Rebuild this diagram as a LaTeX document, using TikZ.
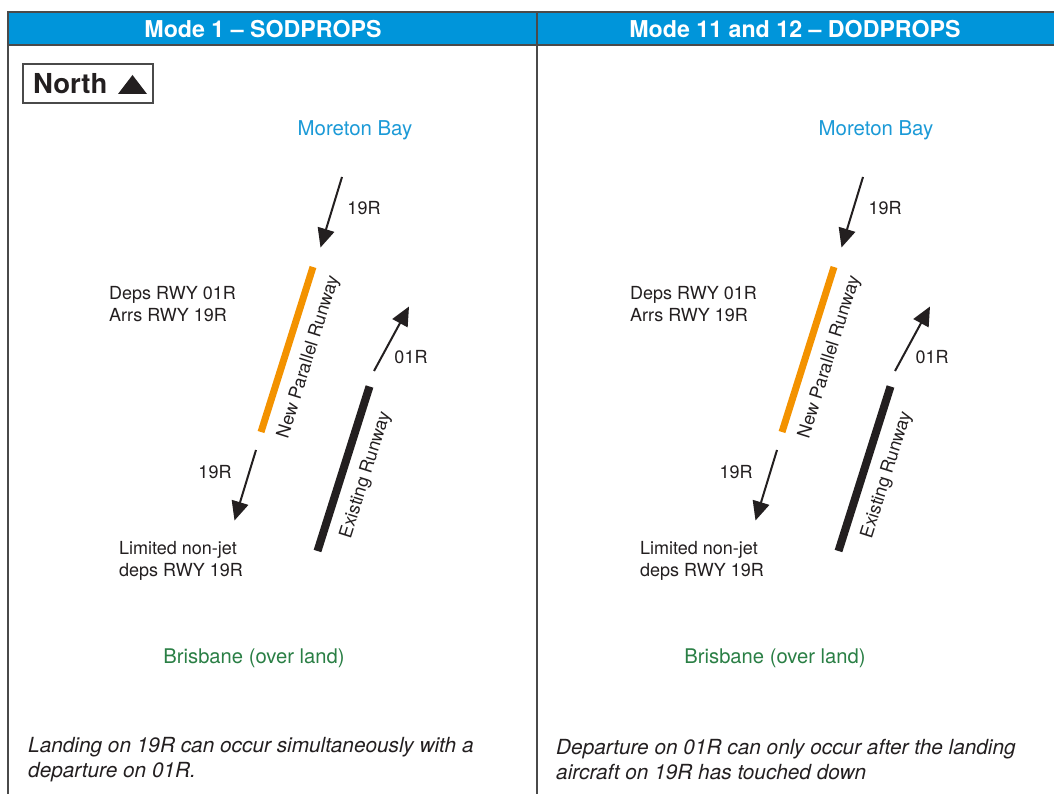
\documentclass[tikz,border=0pt]{standalone}
\usepackage{fontspec}
\setmainfont{TeX Gyre Heros}
\usetikzlibrary{arrows.meta}
\definecolor{hdrblue}{HTML}{0095DA}
\definecolor{baytxt}{HTML}{1B9AD7}
\definecolor{landtxt}{HTML}{2A7F45}
\definecolor{rwyorange}{HTML}{F39200}
\definecolor{ink}{HTML}{231F20}
\definecolor{framecol}{HTML}{4A4A4A}
\begin{document}
\begin{tikzpicture}[x=1pt,y=-1pt,
  frame/.style={draw=framecol,line width=1.4pt},
  hdr/.style={text=white,font=\fontsize{23.2}{27}\selectfont\bfseries,inner sep=0pt},
  body/.style={text=ink,font=\fontsize{18}{22}\selectfont,inner sep=0pt},
  baylbl/.style={text=baytxt,font=\fontsize{20.4}{24}\selectfont,inner sep=0pt},
  landlbl/.style={text=landtxt,font=\fontsize{20.2}{24}\selectfont,inner sep=0pt},
  note/.style={text=ink,font=\fontsize{20.8}{25}\selectfont\itshape,inner sep=0pt,align=left,anchor=west},
  arr/.style={draw=ink,line width=2pt,-{Triangle[length=19pt,width=17pt]}},
  newrwy/.style={draw=rwyorange,line width=7pt},
  oldrwy/.style={draw=ink,line width=8pt},
  rwylbl/.style={text=ink,font=\fontsize{18}{22}\selectfont,inner sep=0pt,rotate=72.5}
]
\useasboundingbox (0,0) rectangle (1054,794);
\fill[white] (0,0) rectangle (1054,794);
% header
\fill[hdrblue] (8,12) rectangle (1054,45);
\draw[frame] (8,794) -- (8,12) -- (1054,12);
\draw[frame] (8,45) -- (1054,45);
\draw[frame] (537,12) -- (537,794);
\node[hdr] (h1) at (263,29.5) {Mode 1 – SODPROPS};
\node[hdr] (h2) at (795,29.5) {Mode 11 and 12 – DODPROPS};
% north box
\node[draw=framecol,line width=1.3pt,minimum width=130pt,minimum height=39pt,inner sep=0pt] (northbox) at (88,83.5) {};
\node[text=ink,font=\fontsize{27.5}{30}\selectfont\bfseries,inner sep=0pt,anchor=base west] (northtxt) at (33,94) {North};
\fill[ink] (118,94) -- (147,94) -- (132.5,75) -- cycle;

\foreach \dx/\pre in {0/L, 521/R}{
\begin{scope}[xshift=\dx pt]
  \node[baylbl] (\pre-bay) at (355,130) {Moreton Bay};
  \coordinate (\pre-a1s) at (342,177);
  \coordinate (\pre-a1e) at (320.5,247.5);
  \draw[arr] (\pre-a1s) -- (\pre-a1e);
  \node[body] (\pre-l1) at (364,208) {19R};
  \coordinate (\pre-nt) at (313,267);
  \coordinate (\pre-nb) at (261,432);
  \draw[newrwy] (\pre-nb) -- (\pre-nt);
  \node[rwylbl] (\pre-nlbl) at (309,357) {New Parallel Runway};
  \coordinate (\pre-a2s) at (374,371);
  \coordinate (\pre-a2e) at (409,306.5);
  \draw[arr] (\pre-a2s) -- (\pre-a2e);
  \node[body] (\pre-l2) at (411,357) {01R};
  \coordinate (\pre-et) at (369.5,386.5);
  \coordinate (\pre-eb) at (317.5,551);
  \draw[oldrwy] (\pre-eb) -- (\pre-et);
  \node[rwylbl] (\pre-elbl) at (366,475) {Existing Runway};
  \node[body,align=left,anchor=west] (\pre-deps) at (109,304) {Deps RWY 01R\\Arrs RWY 19R};
  \coordinate (\pre-a3s) at (256,450);
  \coordinate (\pre-a3e) at (234.5,520.5);
  \draw[arr] (\pre-a3s) -- (\pre-a3e);
  \node[body] (\pre-l3) at (215,472) {19R};
  \node[body,align=left,anchor=west] (\pre-lim) at (119,561) {Limited non-jet\\deps RWY 19R};
  \node[landlbl] (\pre-land) at (254,658) {Brisbane (over land)};
\end{scope}
}
\node[note] (noteL) at (28,759.5) {Landing on 19R can occur simultaneously with a\\departure on 01R.};
\node[note] (noteR) at (556,759.5) {Departure on 01R can only occur after the landing\\aircraft on 19R has touched down};
\end{tikzpicture}
\end{document}
